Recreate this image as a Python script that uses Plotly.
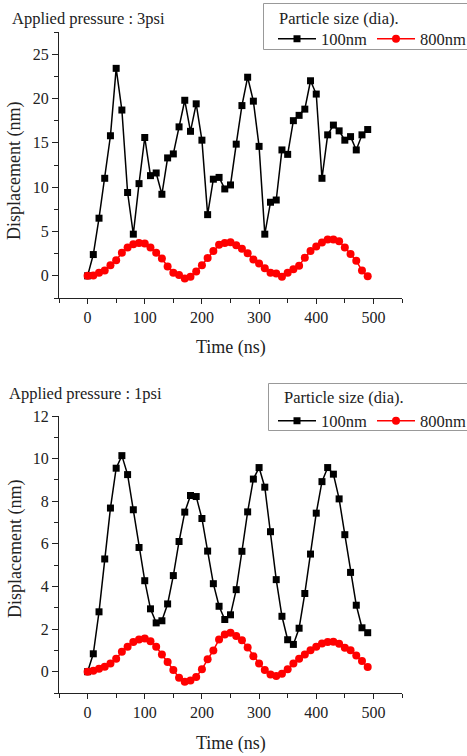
import plotly.graph_objects as go

W, H = 467, 756

time_ns = list(range(0, 500, 10))

# Applied pressure 3psi
top_100nm = [0.0, 2.4, 6.5, 11.0, 15.8, 23.4, 18.7, 9.4, 4.7, 10.4,
             15.6, 11.3, 11.6, 9.2, 13.3, 13.75, 16.8, 19.8, 16.3, 19.4,
             15.3, 6.9, 10.9, 11.1, 9.8, 10.25, 14.85, 19.2, 22.4, 19.7,
             14.6, 4.7, 8.3, 8.55, 14.2, 13.7, 17.5, 18.1, 18.8, 22.0,
             20.5, 11.0, 15.9, 17.0, 16.35, 15.3, 15.7, 14.2, 15.9, 16.5]
top_800nm = [0.0, 0.05, 0.35, 0.6, 1.2, 1.75, 2.6, 3.2, 3.55, 3.7,
             3.65, 3.2, 2.6, 1.95, 1.05, 0.35, 0.1, -0.3, -0.1, 0.5,
             1.2, 2.0, 2.8, 3.5, 3.7, 3.8, 3.45, 3.05, 2.55, 1.85,
             1.4, 0.85, 0.35, 0.25, -0.1, 0.35, 0.75, 1.15, 2.05, 2.8,
             3.3, 3.75, 4.1, 4.1, 3.9, 3.2, 2.45, 1.7, 0.6, -0.05]

# Applied pressure 1psi
bot_100nm = [0.0, 0.84, 2.81, 5.29, 7.68, 9.55, 10.14, 9.25, 7.6, 5.83,
             4.27, 2.95, 2.29, 2.39, 3.18, 4.51, 6.11, 7.49, 8.27, 8.22,
             7.19, 5.66, 4.13, 3.07, 2.45, 2.67, 3.85, 5.65, 7.5, 9.04,
             9.58, 8.66, 6.57, 4.32, 2.6, 1.5, 1.28, 2.04, 3.67, 5.52,
             7.44, 8.92, 9.58, 9.27, 8.11, 6.43, 4.66, 3.12, 2.06, 1.83]
bot_800nm = [0.0, 0.05, 0.14, 0.23, 0.39, 0.61, 0.94, 1.17, 1.39, 1.51,
             1.56, 1.43, 1.17, 0.81, 0.45, 0.08, -0.28, -0.47, -0.41, -0.25,
             0.11, 0.58, 1.0, 1.51, 1.75, 1.83, 1.67, 1.47, 1.13, 0.73,
             0.39, 0.08, -0.13, -0.2, -0.1, 0.11, 0.39, 0.61, 0.81, 1.01,
             1.17, 1.32, 1.39, 1.4, 1.31, 1.12, 1.01, 0.76, 0.5, 0.22]

series_names = ["100nm", "800nm"]
panel_titles = ["Applied pressure : 3psi", "Applied pressure : 1psi"]
x_title = "Time (ns)"
y_title = "Displacement (nm)"
legend_title = "Particle size (dia)."

FONT = "Liberation Serif, Times New Roman, serif"


def px_x(p):
    return p / W


def px_y(p):
    return 1 - p / H


fig = go.Figure()

black = dict(color="black", width=1.5)
red = dict(color="#ff0000", width=1.5)

fig.add_trace(go.Scatter(x=time_ns, y=top_100nm, mode="lines+markers", name=series_names[0],
                         line=black, marker=dict(symbol="square", size=7, color="black"),
                         xaxis="x", yaxis="y", legend="legend"))
fig.add_trace(go.Scatter(x=time_ns, y=top_800nm, mode="lines+markers", name=series_names[1],
                         line=red, marker=dict(symbol="circle", size=8, color="#ff0000"),
                         xaxis="x", yaxis="y", legend="legend"))
fig.add_trace(go.Scatter(x=time_ns, y=bot_100nm, mode="lines+markers", name=series_names[0],
                         line=black, marker=dict(symbol="square", size=7, color="black"),
                         xaxis="x2", yaxis="y2", legend="legend2"))
fig.add_trace(go.Scatter(x=time_ns, y=bot_800nm, mode="lines+markers", name=series_names[1],
                         line=red, marker=dict(symbol="circle", size=8, color="#ff0000"),
                         xaxis="x2", yaxis="y2", legend="legend2"))

tickfont = dict(family=FONT, size=16, color="#222")


def xax(anchor):
    return dict(domain=[px_x(59), px_x(402)], anchor=anchor, range=[-50, 550],
                tick0=0, dtick=100, ticks="outside", ticklen=5, tickwidth=1, tickcolor="#222",
                showline=True, linecolor="#222", linewidth=1, showgrid=False, zeroline=False,
                minor=dict(dtick=50, tick0=0, ticks="outside", ticklen=4, tickcolor="#222", showgrid=False),
                tickfont=tickfont, automargin=False)


def yax(anchor, dom, rng, dt):
    return dict(domain=dom, anchor=anchor, range=rng, tick0=0, dtick=dt,
                ticks="outside", ticklen=6, tickwidth=1, tickcolor="#222",
                showline=True, linecolor="#222", linewidth=1, showgrid=False, zeroline=False,
                minor=dict(dtick=dt / 2, tick0=0, ticks="outside", ticklen=4, tickcolor="#222", showgrid=False),
                tickfont=tickfont, automargin=False)


legend_common = dict(orientation="h", xanchor="left", yanchor="middle",
                     bgcolor="rgba(0,0,0,0)", borderwidth=0,
                     font=dict(family=FONT, size=16.5, color="#222"),
                     itemwidth=38, itemclick=False)

fig.update_layout(
    width=W, height=H,
    margin=dict(l=0, r=0, t=0, b=0, autoexpand=False),
    paper_bgcolor="white", plot_bgcolor="white",
    font=dict(family=FONT, size=16, color="#222"),
    xaxis=xax("y"),
    yaxis=yax("x", [px_y(298), px_y(32)], [-2.5, 27.5], 5),
    xaxis2=xax("y2"),
    yaxis2=yax("x2", [px_y(693), px_y(416)], [-1, 12], 2),
    legend=dict(x=px_x(273), y=px_y(39), **legend_common),
    legend2=dict(x=px_x(273), y=px_y(421), **legend_common),
    showlegend=True,
)

# legend frames
shapes = [
    dict(type="rect", xref="paper", yref="paper", x0=px_x(263.5), x1=1.02,
         y0=px_y(49.5), y1=px_y(3.5), line=dict(color="#999", width=1), fillcolor="white", layer="below"),
    dict(type="rect", xref="paper", yref="paper", x0=px_x(268.5), x1=1.02,
         y0=px_y(430.5), y1=px_y(383.5), line=dict(color="#999", width=1), fillcolor="white", layer="below"),
]
fig.update_layout(shapes=shapes)

ann_font = dict(family=FONT, size=16.5, color="#222")
title_font = dict(family=FONT, size=18, color="#222")
annotations = [
    dict(text=panel_titles[0], x=px_x(10), y=px_y(18), xanchor="left", yanchor="middle"),
    dict(text=panel_titles[1], x=px_x(7), y=px_y(393), xanchor="left", yanchor="middle"),
    dict(text=legend_title, x=px_x(277), y=px_y(18), xanchor="left", yanchor="middle"),
    dict(text=legend_title, x=px_x(282), y=px_y(397), xanchor="left", yanchor="middle"),
]
for a in annotations:
    a.update(xref="paper", yref="paper", showarrow=False, font=ann_font)

axis_titles = [
    dict(text=x_title, x=px_x(231), y=px_y(348)),
    dict(text=x_title, x=px_x(231), y=px_y(743)),
    dict(text=y_title, x=px_x(15), y=px_y(171), textangle=-90),
    dict(text=y_title, x=px_x(15), y=px_y(549), textangle=-90),
]
for a in axis_titles:
    a.update(xref="paper", yref="paper", showarrow=False, font=title_font,
             xanchor="center", yanchor="middle")

fig.update_layout(annotations=annotations + axis_titles)

fig.write_html("out.html", config={"displayModeBar": False},
               post_script="document.body.style.margin='0';document.body.style.overflow='hidden';")
